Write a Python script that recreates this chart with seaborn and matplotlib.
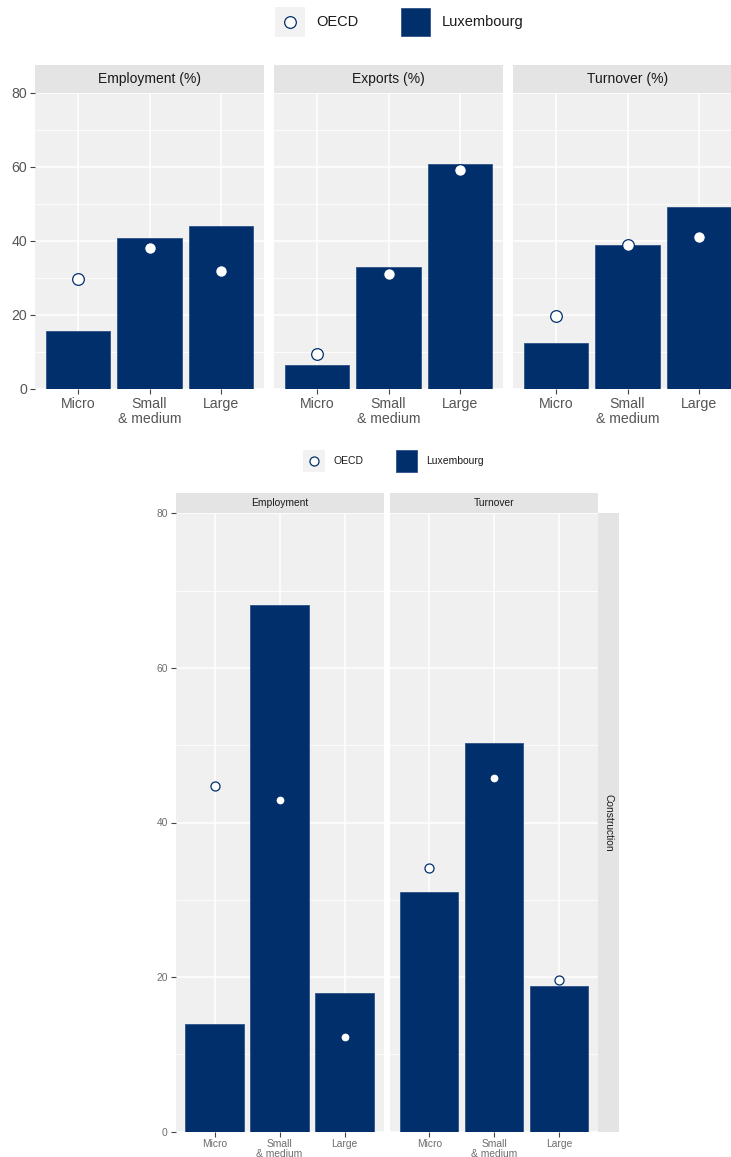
import pandas as pd
import numpy as np
import matplotlib
matplotlib.use("Agg")
import matplotlib.pyplot as plt
from matplotlib.patches import Rectangle
from matplotlib.lines import Line2D
from matplotlib.ticker import MultipleLocator
import seaborn as sns

plt.rcParams['font.family'] = ['Liberation Sans', 'DejaVu Sans']

# ---- data ----
sizes = ["Micro", "Small\n& medium", "Large"]

# top chart: share of employment / exports / turnover (%)
top_measures = ["Employment (%)", "Exports (%)", "Turnover (%)"]
lux_employment = [15.6, 40.7, 44.0]
oecd_employment = [29.6, 38.2, 32.0]
lux_exports = [6.5, 33.1, 60.7]
oecd_exports = [9.5, 31.1, 59.3]
lux_turnover = [12.3, 38.9, 49.2]
oecd_turnover = [19.7, 39.0, 41.1]

# bottom chart: construction sector
bottom_measures = ["Employment", "Turnover"]
lux_constr_employment = [13.9, 68.1, 18.0]
oecd_constr_employment = [44.7, 42.9, 12.3]
lux_constr_turnover = [31.0, 50.3, 18.8]
oecd_constr_turnover = [34.1, 45.8, 19.6]

NAVY = "#002F6C"
PANEL_BG = "#F0F0F0"
STRIP_BG = "#E4E4E4"
W, H = 731, 1157


def long_frame(measures, lux_lists, oecd_lists):
    rows = []
    for m, lux, oecd in zip(measures, lux_lists, oecd_lists):
        for s, lv, ov in zip(sizes, lux, oecd):
            rows.append({"measure": m, "size": s, "country": "Luxembourg", "value": lv})
            rows.append({"measure": m, "size": s, "country": "OECD", "value": ov})
    return pd.DataFrame(rows)


top_df = long_frame(top_measures,
                    [lux_employment, lux_exports, lux_turnover],
                    [oecd_employment, oecd_exports, oecd_turnover])
bottom_df = long_frame(bottom_measures,
                       [lux_constr_employment, lux_constr_turnover],
                       [oecd_constr_employment, oecd_constr_turnover])


def box(l, t, r, b):
    # pixel box (from top-left) -> figure fraction rect
    return [l / W, 1 - b / H, (r - l) / W, (b - t) / H]


def draw_panel(ax, df, measure, first, fs, tick_color, msize, lsp):
    sub = df[df["measure"] == measure]
    bars = sub[sub["country"] == "Luxembourg"]
    pts = sub[sub["country"] == "OECD"]
    sns.barplot(data=bars, x="size", y="value", order=sizes, color=NAVY,
                saturation=1, width=0.9, errorbar=None, ax=ax,
                edgecolor="#2E5288", linewidth=0.6, zorder=2)
    sns.stripplot(data=pts, x="size", y="value", order=sizes, jitter=False,
                  color="white", edgecolor=NAVY, linewidth=0.9, size=msize,
                  ax=ax, zorder=3)
    ax.set_facecolor(PANEL_BG)
    ax.set_xlim(-0.6, 2.6)
    ax.set_ylim(0, 80)
    ax.yaxis.set_major_locator(MultipleLocator(20))
    ax.yaxis.set_minor_locator(MultipleLocator(10))
    ax.set_axisbelow(True)
    ax.grid(which="major", color="white", lw=1.1)
    ax.grid(which="minor", axis="y", color="white", lw=0.6)
    for sp in ax.spines.values():
        sp.set_visible(False)
    ax.set_xlabel("")
    ax.set_ylabel("")
    ax.set_xticks(range(len(sizes)))
    ax.set_xticklabels(sizes, fontsize=fs, color=tick_color, linespacing=lsp)
    ax.tick_params(axis="x", length=3.5, width=0.8, color="#444444", pad=2)
    ax.tick_params(axis="y", which="minor", length=0)
    if first:
        ax.tick_params(axis="y", length=3.5, width=0.8, color="#444444",
                       labelsize=fs, labelcolor=tick_color, pad=2)
    else:
        ax.tick_params(axis="y", length=0, labelleft=False)


def strip(fig, rect, text, fs, rotation=0):
    sa = fig.add_axes(rect)
    sa.set_facecolor(STRIP_BG)
    sa.set_xticks([])
    sa.set_yticks([])
    for sp in sa.spines.values():
        sp.set_visible(False)
    sa.text(0.5, 0.5, text, ha="center", va="center", fontsize=fs,
            color="#1A1A1A", rotation=rotation, transform=sa.transAxes)


def legend(fig, oecd_box, lux_box, centre, text_x, fs, msize):
    l, t, r, b = oecd_box
    fig.add_artist(Rectangle((l / W, 1 - b / H), (r - l) / W, (b - t) / H,
                             transform=fig.transFigure, facecolor="#F2F2F2",
                             edgecolor="none"))
    fig.add_artist(Line2D([centre[0] / W], [1 - centre[1] / H], marker="o",
                          markersize=msize, markerfacecolor="white",
                          markeredgecolor=NAVY, markeredgewidth=0.9,
                          linestyle="none", transform=fig.transFigure))
    l, t, r, b = lux_box
    fig.add_artist(Rectangle((l / W, 1 - b / H), (r - l) / W, (b - t) / H,
                             transform=fig.transFigure, facecolor=NAVY,
                             edgecolor="#2E5288", lw=0.6))
    ymid = 1 - centre[1] / H
    fig.text(text_x[0] / W, ymid, "OECD", fontsize=fs, color="#1A1A1A",
             ha="left", va="center")
    fig.text(text_x[1] / W, ymid, "Luxembourg", fontsize=fs, color="#1A1A1A",
             ha="left", va="center")


fig = plt.figure(figsize=(W / 100, H / 100), dpi=100)
fig.patch.set_facecolor("white")

# ---- top chart ----
legend(fig, (275, 7, 305, 37), (401, 8, 430, 36), (290, 22), (316, 442), 10.5, 8.4)
top_lefts = [35, 274, 513]
for i, (m, left) in enumerate(zip(top_measures, top_lefts)):
    ax = fig.add_axes(box(left, 93, left + 229, 389))
    draw_panel(ax, top_df, m, i == 0, 10.2, "#555555", 8.4, 1.15)
    strip(fig, box(left, 65, left + 229, 93), m, 10)

# ---- bottom chart ----
legend(fig, (303, 450, 325, 472), (396, 450, 417, 472), (314, 461), (333, 426), 7.5, 6.5)
bottom_lefts = [175.5, 390.2]
for i, (m, left) in enumerate(zip(bottom_measures, bottom_lefts)):
    ax = fig.add_axes(box(left, 513.3, left + 208, 1131.7))
    draw_panel(ax, bottom_df, m, i == 0, 7.4, "#6E6E6E", 6.5, 1.0)
    strip(fig, box(left, 492.7, left + 208, 513.3), m, 7.4)
strip(fig, box(598.3, 513.3, 619.3, 1131.7), "Construction", 7.4, rotation=270)

fig.savefig("out.png", dpi=100, facecolor="white")
